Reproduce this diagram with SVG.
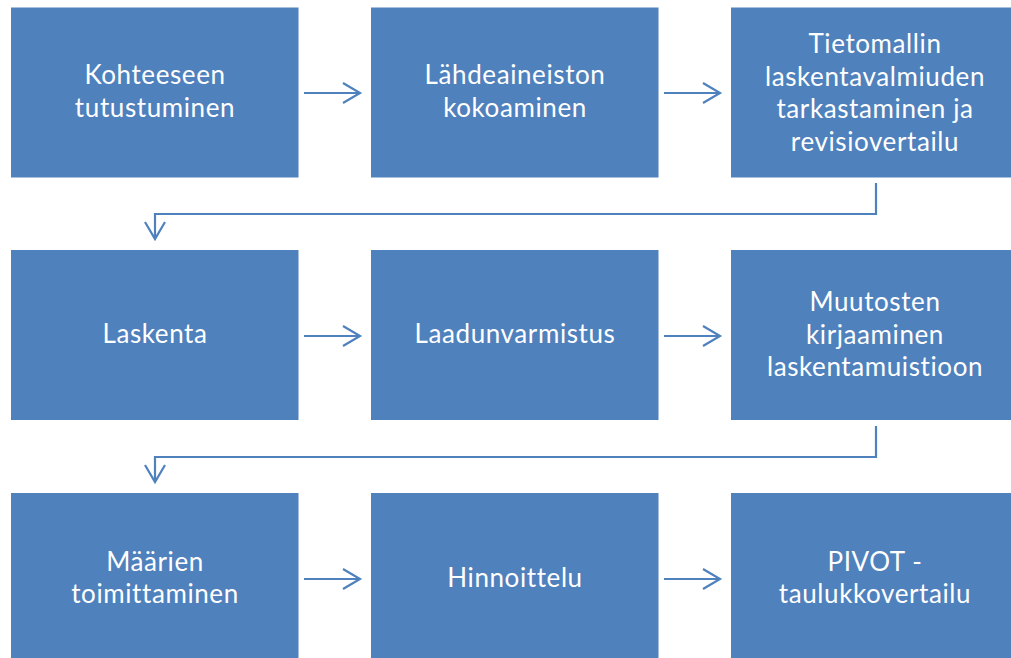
<svg xmlns="http://www.w3.org/2000/svg" width="1011" height="658" viewBox="0 0 1011 658">
<style>
.box{fill:#4F81BD;}
.t{font-family:Lato,"Liberation Sans",sans-serif;font-size:26px;letter-spacing:0.6px;fill:#FFFFFF;text-anchor:middle;}
.c{fill:none;stroke:#4F81BD;stroke-width:2.2;}
</style>
<rect width="1011" height="658" fill="#FFFFFF"/>
<g id="n1"><rect class="box" x="11" y="7.5" width="287.5" height="170"/><text class="t" x="155" y="84">Kohteeseen</text><text class="t" x="155" y="117">tutustuminen</text></g>
<g id="n2"><rect class="box" x="371" y="7.5" width="287.5" height="170"/><text class="t" x="515" y="84">Lähdeaineiston</text><text class="t" x="515" y="117">kokoaminen</text></g>
<g id="n3"><rect class="box" x="731" y="7.5" width="287.5" height="170"/><text class="t" x="875" y="53">Tietomallin</text><text class="t" x="875" y="85.5">laskentavalmiuden</text><text class="t" x="875" y="118">tarkastaminen ja</text><text class="t" x="875" y="150.5">revisiovertailu</text></g>
<g id="n4"><rect class="box" x="11" y="250" width="287.5" height="170"/><text class="t" x="155" y="343">Laskenta</text></g>
<g id="n5"><rect class="box" x="371" y="250" width="287.5" height="170"/><text class="t" x="515" y="343">Laadunvarmistus</text></g>
<g id="n6"><rect class="box" x="731" y="250" width="287.5" height="170"/><text class="t" x="875" y="311">Muutosten</text><text class="t" x="875" y="343.5">kirjaaminen</text><text class="t" x="875" y="376">laskentamuistioon</text></g>
<g id="n7"><rect class="box" x="11" y="493" width="287.5" height="170"/><text class="t" x="155" y="571">Määrien</text><text class="t" x="155" y="603">toimittaminen</text></g>
<g id="n8"><rect class="box" x="371" y="493" width="287.5" height="170"/><text class="t" x="515" y="587">Hinnoittelu</text></g>
<g id="n9"><rect class="box" x="731" y="493" width="287.5" height="170"/><text class="t" x="875" y="571">PIVOT -</text><text class="t" x="875" y="603">taulukkovertailu</text></g>
<g id="connectors">
<path class="c" d="M304 93H360M343 83L360 93L343 103"/>
<path class="c" d="M664 93H720M703 83L720 93L703 103"/>
<path class="c" d="M304 336H360M343 326L360 336L343 346"/>
<path class="c" d="M664 336H720M703 326L720 336L703 346"/>
<path class="c" d="M304 579H360M343 569L360 579L343 589"/>
<path class="c" d="M664 579H720M703 569L720 579L703 589"/>
<path class="c" d="M876 183V214H155V239M145 222L155 239L165 222"/>
<path class="c" d="M876 426V457H155V482M145 465L155 482L165 465"/>
</g>
</svg>
